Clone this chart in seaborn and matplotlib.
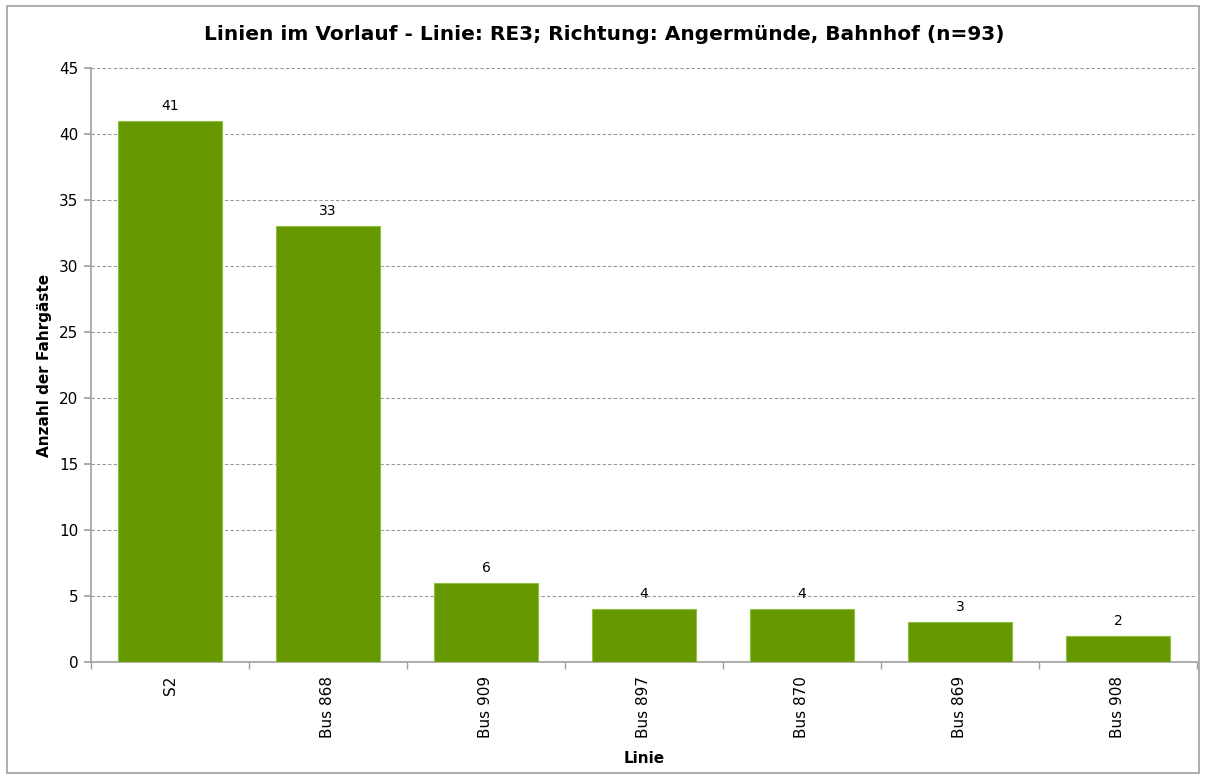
import matplotlib
matplotlib.use("Agg")
import matplotlib.pyplot as plt
import seaborn as sns
import pandas as pd
from matplotlib.patches import Rectangle

linien = ["S2", "Bus 868", "Bus 909", "Bus 897", "Bus 870", "Bus 869", "Bus 908"]
fahrgaeste = [41, 33, 6, 4, 4, 3, 2]
y_ticks = [0, 5, 10, 15, 20, 25, 30, 35, 40, 45]

sns.set_theme(style="white")
plt.rcParams["font.family"] = ["DejaVu Sans"]
plt.rcParams["text.color"] = "black"
plt.rcParams["axes.labelcolor"] = "black"
plt.rcParams["xtick.color"] = "black"
plt.rcParams["ytick.color"] = "black"

df = pd.DataFrame({"Linie": linien, "Anzahl": fahrgaeste})

fig = plt.figure(figsize=(12.08, 7.80), dpi=100)
ax = fig.add_axes([91 / 1208, 1 - 662 / 780, (1197 - 91) / 1208, (662 - 68) / 780])

sns.barplot(data=df, x="Linie", y="Anzahl", color="#669900", saturation=1,
            width=0.66, edgecolor="#8fbf3f", linewidth=0.8, ax=ax, zorder=3)

for i, v in enumerate(fahrgaeste):
    ax.text(i, v + 0.6, str(v), ha="center", va="bottom", fontsize=10, color="black")

ax.set_ylim(0, 45)
ax.set_yticks(y_ticks)
ax.set_xlim(-0.5, len(linien) - 0.5)
ax.yaxis.grid(True, linestyle=(0, (3, 2)), color="#999999", linewidth=0.8, zorder=0)
ax.xaxis.grid(False)

for s in ["top", "right"]:
    ax.spines[s].set_visible(False)
for s in ["left", "bottom"]:
    ax.spines[s].set_color("#a0a0a0")
    ax.spines[s].set_linewidth(1.2)

ax.tick_params(axis="y", which="both", left=True, length=5, color="#a0a0a0", labelsize=11,
               labelcolor="black", pad=4)
ax.set_xticks([i - 0.5 for i in range(len(linien) + 1)], minor=True)
ax.tick_params(axis="x", which="minor", bottom=True, length=5, color="#a0a0a0")
ax.tick_params(axis="x", which="major", bottom=False, labelsize=11, labelcolor="black", pad=4)
ax.set_xticklabels(linien, rotation=90)

ax.set_xlabel("Linie", fontsize=11, fontweight="bold", labelpad=9, color="black")
ax.set_ylabel("Anzahl der Fahrgäste", fontsize=11, fontweight="bold", labelpad=5, color="black")
fig.text(0.5, 1 - 34 / 780, "Linien im Vorlauf - Linie: RE3; Richtung: Angermünde, Bahnhof (n=93)",
         ha="center", va="center", fontsize=14.5, fontweight="bold", color="black")

fig.patches.append(Rectangle((7 / 1208, 1 - 773 / 780), (1199 - 7) / 1208, (773 - 6) / 780,
                             transform=fig.transFigure, fill=False, edgecolor="#a0a0a0", linewidth=1.2))

fig.savefig("out.png", dpi=100)
